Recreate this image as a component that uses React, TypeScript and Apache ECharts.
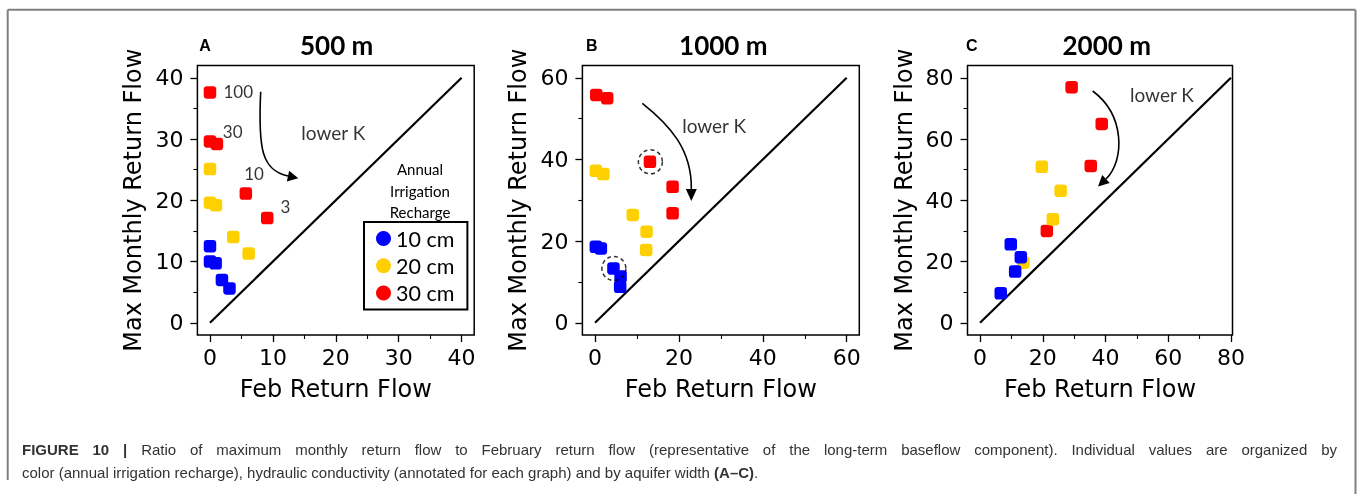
import React, { useEffect, useRef } from "react";
import * as echarts from "echarts";

// ---------- Data ----------
// Panel A (500 m)
const A_blue = [[0, 12.5], [0, 10.0], [0.9, 9.7], [1.9, 7.0], [3.1, 5.6]];
const A_yellow = [[0, 25.1], [0, 19.6], [0.95, 19.2], [3.7, 14.0], [6.15, 11.3]];
const A_red = [[0, 37.6], [0, 29.6], [1.1, 29.2], [5.7, 21.1], [9.1, 17.1]];
// Panel B (1000 m)
const B_blue = [[0.2, 18.6], [1.4, 18.2], [4.4, 13.3], [6.1, 11.3], [6.0, 8.8]];
const B_yellow = [[0.2, 37.2], [2.0, 36.4], [9.0, 26.4], [12.3, 22.3], [12.2, 17.8]];
const B_red = [[0.3, 55.8], [2.9, 55.0], [13.1, 39.4], [18.5, 33.3], [18.5, 26.8]];
const B_circled = [[13.2, 39.4], [4.5, 13.3]];
// Panel C (2000 m)
const C_blue = [[9.8, 25.6], [13.0, 21.4], [11.2, 16.7], [6.6, 9.6]];
const C_yellow = [[19.7, 50.9], [25.7, 43.1], [23.2, 33.8], [13.8, 19.6]];
const C_red = [[29.2, 76.9], [38.8, 64.9], [35.3, 51.2], [21.3, 30.0]];

// 1:1 lines
const A_diag = [[0, 0], [40, 40]];
const B_diag = [[0, 0], [60, 60]];
const C_diag = [[0, 0], [80, 80]];

// axis ranges & ticks
const A_range = [-2, 42];
const B_range = [-3, 63];
const C_xrange = [-4, 80.5];
const C_yrange = [-4, 84];
const A_major = [0, 10, 20, 30, 40];
const A_minor = [5, 15, 25, 35];
const B_major = [0, 20, 40, 60];
const B_minor = [10, 30, 50];
const C_major = [0, 20, 40, 60, 80];
const C_minor = [10, 30, 50, 70];

// annotations (data coordinates)
const A_kLabels = [
  { name: "100", value: [4.5, 37.8] },
  { name: "30", value: [3.6, 31.2] },
  { name: "10", value: [7.0, 24.3] },
  { name: "3", value: [12.0, 18.9] },
];
const A_lowerK = [19.6, 31.0];
const B_lowerK = [28.4, 48.4];
const C_lowerK = [58.0, 74.4];
// arrow: start, ctrl1, ctrl2, head base, tip
const A_arrow = [8.06, 37.71, 7.63, 28.2, 8.27, 24.93, 12.4, 23.95, 14.04, 23.58];
const B_arrow = [11.28, 53.75, 17.88, 48.42, 23.12, 42.3, 22.96, 32.75, 22.96, 29.81];
const C_arrow = [35.92, 75.67, 46.21, 67.82, 46.21, 53.13, 40.16, 46.92, 37.61, 44.47];

const SERIES_NAMES = ["10 cm", "20 cm", "30 cm"];
const COLORS = { blue: "#0000FF", yellow: "#FFD000", red: "#FF0000" };
const TITLES = ["500 m", "1000 m", "2000 m"];
const LETTERS = ["A", "B", "C"];
const X_NAME = "Feb Return Flow";
const Y_NAME = "Max Monthly Return Flow";
const LEGEND_TITLE = ["Annual", "Irrigation", "Recharge"];

const CAP_L1_BOLD = "FIGURE 10 | ";
const CAP_L1 =
  "Ratio of maximum monthly return flow to February return flow (representative of the long-term baseflow component). Individual values are organized by";
const CAP_L2 =
  "color (annual irrigation recharge), hydraulic conductivity (annotated for each graph) and by aquifer width ";
const CAP_L2_BOLD = "(A–C)";

const AX_FONT = "DejaVu Sans";
const ANN_FONT = "Lato";

const GRIDS = [
  { left: 197.4, top: 65.5, width: 276.8, height: 269.5 },
  { left: 582.4, top: 65.5, width: 276.9, height: 269.5 },
  { left: 967.5, top: 65.5, width: 265, height: 269.5 },
];

function arrowRender(_params: any, api: any) {
  const p = [0, 1, 2, 3, 4].map((i) => api.coord([api.value(2 * i), api.value(2 * i + 1)]));
  const [p0, p1, p2, p3, tip] = p;
  const dx = tip[0] - p3[0];
  const dy = tip[1] - p3[1];
  const len = Math.hypot(dx, dy) || 1;
  const nx = -dy / len;
  const ny = dx / len;
  const hw = 5.5;
  return {
    type: "group",
    children: [
      {
        type: "bezierCurve",
        shape: {
          x1: p0[0], y1: p0[1], cpx1: p1[0], cpy1: p1[1],
          cpx2: p2[0], cpy2: p2[1], x2: p3[0], y2: p3[1],
        },
        style: { stroke: "#000", lineWidth: 1.6, fill: "none" },
      },
      {
        type: "polygon",
        shape: {
          points: [
            [tip[0], tip[1]],
            [p3[0] + nx * hw, p3[1] + ny * hw],
            [p3[0] - nx * hw, p3[1] - ny * hw],
          ],
        },
        style: { fill: "#000" },
      },
    ],
  };
}

function makeAxes(gi: number, xr: number[], yr: number[], major: number[], minor: number[]) {
  const common = {
    type: "value",
    gridIndex: gi,
    splitLine: { show: false },
    axisLine: { show: false, onZero: false },
  };
  const xAxes = [
    {
      ...common,
      min: xr[0], max: xr[1], position: "bottom",
      name: X_NAME, nameLocation: "middle", nameGap: 42,
      nameTextStyle: { fontFamily: AX_FONT, fontSize: 24, color: "#000" },
      axisTick: { show: true, customValues: major, length: 7, lineStyle: { color: "#000", width: 1.3 } },
      axisLabel: { customValues: major, margin: 11, fontFamily: AX_FONT, fontSize: 22, color: "#000" },
    },
    {
      ...common,
      min: xr[0], max: xr[1], position: "bottom",
      axisTick: { show: true, customValues: minor, length: 4, lineStyle: { color: "#000", width: 1.1 } },
      axisLabel: { show: false },
    },
  ];
  const yAxes = [
    {
      ...common,
      min: yr[0], max: yr[1], position: "left",
      name: Y_NAME, nameLocation: "middle", nameGap: 52,
      nameTextStyle: { fontFamily: AX_FONT, fontSize: 24, color: "#000" },
      axisTick: { show: true, customValues: major, length: 7, lineStyle: { color: "#000", width: 1.3 } },
      axisLabel: { customValues: major, margin: 14, fontFamily: AX_FONT, fontSize: 22, color: "#000" },
    },
    {
      ...common,
      min: yr[0], max: yr[1], position: "left",
      axisTick: { show: true, customValues: minor, length: 4, lineStyle: { color: "#000", width: 1.1 } },
      axisLabel: { show: false },
    },
  ];
  return { xAxes, yAxes };
}

function panelSeries(
  gi: number,
  diag: number[][],
  blue: number[][],
  yellow: number[][],
  red: number[][],
  arrow: number[],
  lowerK: number[],
) {
  const ax = { xAxisIndex: gi * 2, yAxisIndex: gi * 2 };
  const scatter = (name: string, color: string, data: number[][]) => ({
    ...ax,
    type: "scatter",
    name,
    data,
    symbol: "roundRect",
    symbolSize: 12.5,
    itemStyle: { color, opacity: 1 },
    silent: true,
    z: 3,
  });
  return [
    {
      ...ax,
      type: "line",
      name: "1:1",
      data: diag,
      symbol: "none",
      lineStyle: { color: "#000", width: 2.2 },
      silent: true,
      z: 2,
    },
    scatter(SERIES_NAMES[2], COLORS.red, red),
    scatter(SERIES_NAMES[1], COLORS.yellow, yellow),
    scatter(SERIES_NAMES[0], COLORS.blue, blue),
    {
      ...ax,
      type: "custom",
      name: "arrow",
      data: [arrow],
      encode: { x: 0, y: 1 },
      renderItem: arrowRender,
      silent: true,
      z: 4,
    },
    {
      ...ax,
      type: "scatter",
      name: "lowerK",
      data: [{ name: "lower K", value: lowerK }],
      symbolSize: 1,
      itemStyle: { color: "transparent" },
      label: {
        show: true, position: "inside", formatter: "{b}",
        fontFamily: ANN_FONT, fontSize: 19, color: "#000",
      },
      silent: true,
      z: 5,
    },
  ];
}

export default function App() {
  const ref = useRef<HTMLDivElement>(null);
  useEffect(() => {
    if (!ref.current) return;
    const chart = echarts.init(ref.current, null, { renderer: "svg" });
    const a = makeAxes(0, A_range, A_range, A_major, A_minor);
    const b = makeAxes(1, B_range, B_range, B_major, B_minor);
    const c = makeAxes(2, C_xrange, C_yrange, C_major, C_minor);

    const series: any[] = [
      ...panelSeries(0, A_diag, A_blue, A_yellow, A_red, A_arrow, A_lowerK),
      ...panelSeries(1, B_diag, B_blue, B_yellow, B_red, B_arrow, B_lowerK),
      ...panelSeries(2, C_diag, C_blue, C_yellow, C_red, C_arrow, C_lowerK),
      {
        xAxisIndex: 0, yAxisIndex: 0,
        type: "scatter",
        name: "kLabels",
        data: A_kLabels,
        symbolSize: 1,
        itemStyle: { color: "transparent" },
        label: {
          show: true, position: "inside", formatter: "{b}",
          fontFamily: ANN_FONT, fontSize: 17, color: "#000",
        },
        silent: true,
        z: 5,
      },
      {
        xAxisIndex: 2, yAxisIndex: 2,
        type: "scatter",
        name: "circled",
        data: B_circled,
        symbol: "circle",
        symbolSize: 24,
        itemStyle: {
          color: "transparent", borderColor: "#000", borderWidth: 1.5, borderType: [4, 3],
        },
        silent: true,
        z: 6,
      },
    ];

    const graphic: any[] = [
      // figure frame
      { type: "line", shape: { x1: 7.7, y1: 9.7, x2: 1355.5, y2: 9.7 }, style: { stroke: "#808080", lineWidth: 2 } },
      { type: "line", shape: { x1: 7.7, y1: 9.7, x2: 7.7, y2: 480 }, style: { stroke: "#808080", lineWidth: 2 } },
      { type: "line", shape: { x1: 1355.5, y1: 9.7, x2: 1355.5, y2: 494 }, style: { stroke: "#808080", lineWidth: 2 } },
    ];
    const titleX = [336.7, 723.3, 1106.7];
    const letterX = [205, 591.7, 971.7];
    TITLES.forEach((t, i) => {
      graphic.push({
        type: "text", x: titleX[i], y: 45,
        style: { text: t, fontFamily: ANN_FONT, fontWeight: "bold", fontSize: 26, fill: "#000", align: "center", verticalAlign: "middle" },
      });
      graphic.push({
        type: "text", x: letterX[i], y: 45,
        style: { text: LETTERS[i], fontFamily: "Liberation Sans", fontWeight: "bold", fontSize: 16, fill: "#000", align: "center", verticalAlign: "middle" },
      });
    });
    const ltY = [169.3, 191, 211.7];
    LEGEND_TITLE.forEach((t, i) => {
      graphic.push({
        type: "text", x: 420, y: ltY[i],
        style: { text: t, fontFamily: ANN_FONT, fontSize: 15, fill: "#000", align: "center", verticalAlign: "middle" },
      });
    });

    chart.setOption({
      animation: false,
      grid: GRIDS.map((g) => ({ ...g, show: true, borderColor: "#000", borderWidth: 1.5, backgroundColor: "transparent" })),
      xAxis: [...a.xAxes, ...b.xAxes, ...c.xAxes],
      yAxis: [...a.yAxes, ...b.yAxes, ...c.yAxes],
      legend: {
        data: SERIES_NAMES,
        orient: "vertical",
        left: 364,
        top: 222,
        padding: [5.5, 13, 5.5, 12],
        borderColor: "#000",
        borderWidth: 2,
        itemWidth: 15,
        itemHeight: 15,
        itemGap: 5.3,
        icon: "circle",
        selectedMode: false,
        textStyle: { fontFamily: ANN_FONT, fontSize: 21.5, color: "#000" },
      },
      graphic,
      series,
    });
    return () => chart.dispose();
  }, []);

  const capStyle: any = {
    position: "fixed", left: 22,
    fontFamily: "'Liberation Sans', Arial, sans-serif", fontSize: 15, color: "#333",
    lineHeight: "22px", whiteSpace: "nowrap",
  };

  return (
    <div>
      <div ref={ref} style={{ position: "fixed", left: 0, top: 0, width: 1360, height: 494 }} />
      <div style={{ ...capStyle, top: 439, width: 1315, textAlign: "justify", textAlignLast: "justify", whiteSpace: "normal" }}>
        <span style={{ fontWeight: "bold" }}>{CAP_L1_BOLD}</span>
        {CAP_L1}
      </div>
      <div style={{ ...capStyle, top: 462 }}>
        {CAP_L2}
        <span style={{ fontWeight: "bold" }}>{CAP_L2_BOLD}</span>.
      </div>
    </div>
  );
}
